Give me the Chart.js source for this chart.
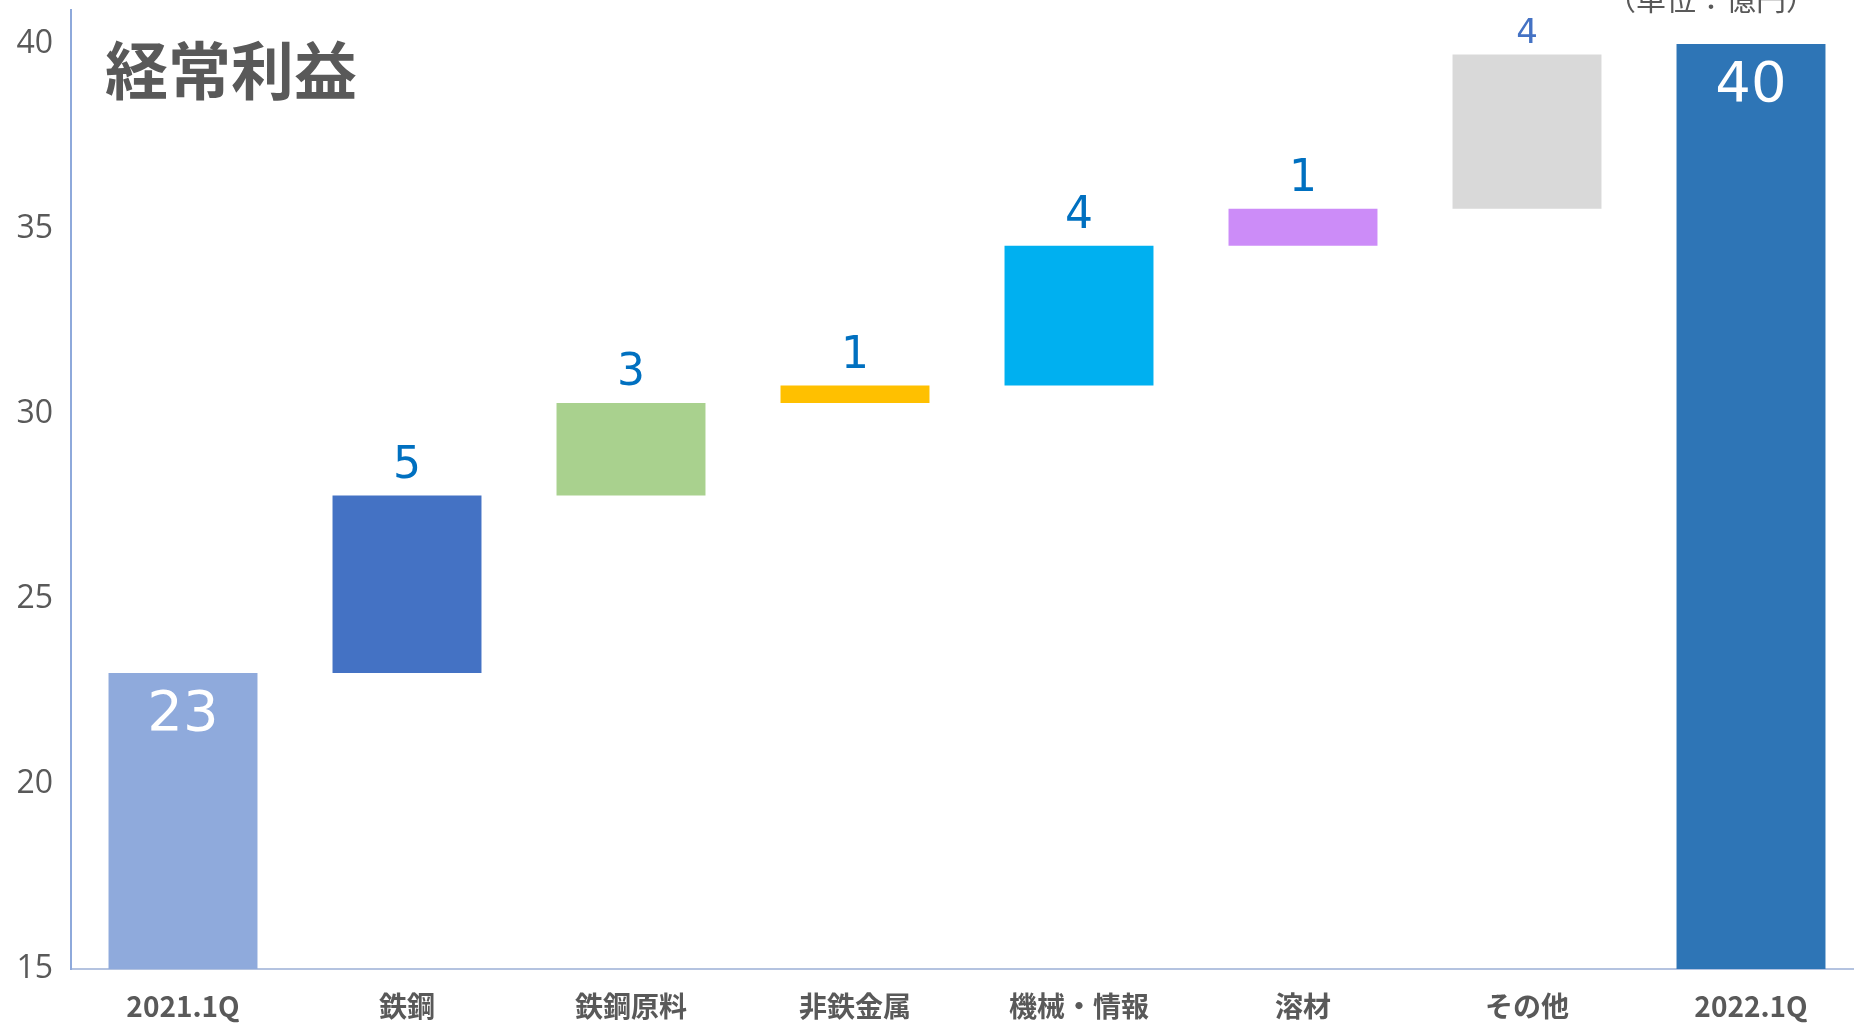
<!DOCTYPE html>
<html lang="ja">
<head>
<meta charset="utf-8">
<title>経常利益</title>
<script src="https://cdn.jsdelivr.net/npm/chart.js@4.4.1/dist/chart.umd.min.js"></script>
<style>
    html, body { margin: 0; padding: 0; background: #fff; overflow: hidden; }
    #wrap { position: relative; width: 1863px; height: 1023px; }
    #title {
        position: absolute; left: 105px; top: 27px;
        font: bold 63px "Noto Sans CJK JP", sans-serif; color: #595959;
        line-height: 80px; white-space: nowrap;
    }
    #unit {
        position: absolute; left: 1606px; top: -18px;
        font: 30px "Noto Sans CJK JP", sans-serif; color: #595959;
        line-height: 30px; white-space: nowrap;
    }
</style>
</head>
<body>
<div id="wrap">
    <canvas id="chart"></canvas>
    <div id="title">経常利益</div>
    <div id="unit">（単位：億円）</div>
</div>
<script>
// --- data ---
const categories = ['2021.1Q', '鉄鋼', '鉄鋼原料', '非鉄金属', '機械・情報', '溶材', 'その他', '2022.1Q'];
const barStart = [0, 23, 27.8, 30.3, 30.77, 34.55, 35.55, 0];
const barEnd = [23, 27.8, 30.3, 30.77, 34.55, 35.55, 39.72, 40];
const valueLabels = ['23', '5', '3', '1', '4', '1', '4', '40'];
const yTicks = [15, 20, 25, 30, 35, 40];

const barColors = ['#8faadc', '#4472c4', '#a9d18e', '#ffc000', '#00b0f0', '#cc8cf8', '#d9d9d9', '#2e75b6'];

// label style per bar: inside (white) for totals, above for steps
const labelStyle = [
    { inside: true, size: 56, color: '#ffffff', offset: 42 },
    { inside: false, size: 44, color: '#0070c0', offset: 29 },
    { inside: false, size: 44, color: '#0070c0', offset: 29 },
    { inside: false, size: 44, color: '#0070c0', offset: 29 },
    { inside: false, size: 44, color: '#0070c0', offset: 29 },
    { inside: false, size: 44, color: '#0070c0', offset: 29 },
    { inside: false, size: 34, color: '#4472c4', offset: 20 },
    { inside: true, size: 56, color: '#ffffff', offset: 42 }
];

const valueLabelPlugin = {
    id: 'valueLabels',
    afterDatasetsDraw(chart) {
        const ctx = chart.ctx;
        const meta = chart.getDatasetMeta(0);
        ctx.save();
        ctx.textAlign = 'center';
        ctx.textBaseline = 'middle';
        meta.data.forEach((bar, i) => {
            const s = labelStyle[i];
            ctx.font = s.size + 'px "DejaVu Sans", sans-serif';
            ctx.fillStyle = s.color;
            const y = s.inside ? bar.y + s.offset : bar.y - s.offset;
            ctx.fillText(valueLabels[i], bar.x, y);
        });
        ctx.restore();
    }
};

const data = categories.map((c, i) => [barStart[i], barEnd[i]]);

new Chart(document.getElementById('chart'), {
    type: 'bar',
    data: {
        labels: categories,
        datasets: [{
            data: data,
            backgroundColor: barColors,
            borderWidth: 0,
            categoryPercentage: 1,
            barPercentage: 0.665
        }]
    },
    options: {
        responsive: true,
        maintainAspectRatio: false,
        animation: false,
        layout: { padding: { top: 10, left: 0, right: 0, bottom: 0 } },
        plugins: { legend: { display: false }, tooltip: { enabled: false } },
        scales: {
            x: {
                grid: { display: false, drawTicks: false },
                border: { display: true, color: '#b4c3e0', width: 2 },
                ticks: {
                    color: '#595959',
                    font: { family: '"Noto Sans CJK JP", sans-serif', size: 28, weight: 'bold' },
                    padding: 21,
                    maxRotation: 0,
                    autoSkip: false
                },
                afterFit(scale) {
                    scale.height = 54;
                    scale.paddingLeft = 0;
                    scale.paddingRight = 0;
                }
            },
            y: {
                min: 15,
                max: 40.92,
                grid: { display: false, drawTicks: false },
                border: { display: true, color: '#8ea9db', width: 2 },
                afterBuildTicks(scale) {
                    scale.ticks = yTicks.map(v => ({ value: v }));
                },
                ticks: {
                    color: '#595959',
                    font: { family: '"Open Sans", sans-serif', size: 32 },
                    padding: 18
                },
                afterFit(scale) {
                    scale.width = 71;
                    scale.paddingTop = 0;
                    scale.paddingBottom = 0;
                }
            }
        }
    },
    plugins: [valueLabelPlugin]
});
</script>
</body>
</html>
